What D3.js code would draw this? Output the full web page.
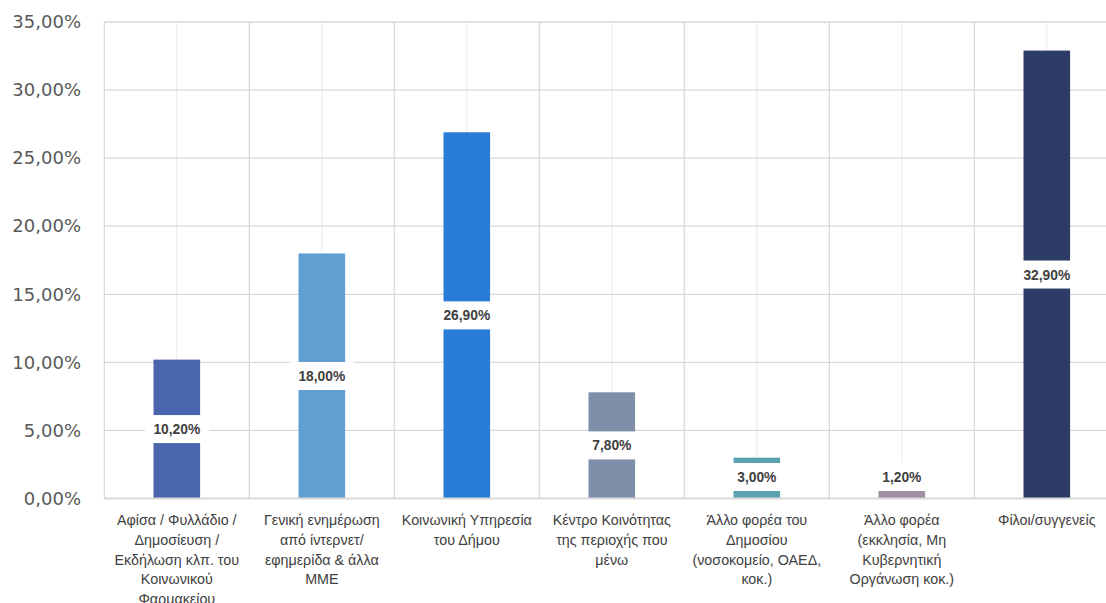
<!DOCTYPE html>
<html>
<head>
<meta charset="utf-8">
<script src="https://cdn.jsdelivr.net/npm/d3@7/dist/d3.min.js"></script>
<style>
  html, body { margin: 0; padding: 0; background: #fff; overflow: hidden; }
  svg { display: block; }
</style>
</head>
<body>
<div id="chart"></div>
<script>
const categories = [
  ["Αφίσα / Φυλλάδιο /", "Δημοσίευση /", "Εκδήλωση κλπ. του", "Κοινωνικού", "Φαρμακείου"],
  ["Γενική ενημέρωση", "από ίντερνετ/", "εφημερίδα & άλλα", "ΜΜΕ"],
  ["Κοινωνική Υπηρεσία", "του Δήμου"],
  ["Κέντρο Κοινότητας", "της περιοχής που", "μένω"],
  ["Άλλο φορέα του", "Δημοσίου", "(νοσοκομείο, ΟΑΕΔ,", "κοκ.)"],
  ["Άλλο φορέα", "(εκκλησία, Μη", "Κυβερνητική", "Οργάνωση κοκ.)"],
  ["Φίλοι/συγγενείς"]
];
const values = [10.2, 18.0, 26.9, 7.8, 3.0, 1.2, 32.9];
const barColors = ["#4a64ad", "#619fd3", "#2a7dd6", "#7f8faa", "#5aa3ae", "#a08ea2", "#2c3c66"];
const yTicks = [0, 5, 10, 15, 20, 25, 30, 35];

(function () {
const W = 1106, H = 603;
const mLeft = 104.3, catW = 145;
const mRight = mLeft + catW * categories.length;
const mTop = 22, mBottom = 498.5;

const svg = d3.select("#chart").append("svg").attr("width", W).attr("height", H);

const idx = categories.map((d, i) => i);
const x = d3.scaleBand().domain(idx).range([mLeft, mRight]).paddingInner(0).paddingOuter(0);
const y = d3.scaleLinear().domain([0, 35]).range([mBottom, mTop]);

const fmt = v => d3.format(".2f")(v).replace(".", ",") + "%";

// minor vertical gridlines at category centers
svg.append("g").selectAll("line").data(idx).join("line")
  .attr("x1", d => x(d) + x.bandwidth() / 2).attr("x2", d => x(d) + x.bandwidth() / 2)
  .attr("y1", mTop).attr("y2", mBottom)
  .attr("stroke", "#efefef").attr("stroke-width", 1.3);

// major vertical gridlines at category boundaries
svg.append("g").selectAll("line").data(idx.concat([categories.length])).join("line")
  .attr("x1", d => d < categories.length ? x(d) : mRight).attr("x2", d => d < categories.length ? x(d) : mRight)
  .attr("y1", mTop).attr("y2", mBottom)
  .attr("stroke", "#d9d9d9").attr("stroke-width", 1.3);

// horizontal gridlines
svg.append("g").selectAll("line").data(yTicks.filter(t => t > 0)).join("line")
  .attr("x1", mLeft).attr("x2", mRight)
  .attr("y1", d => y(d)).attr("y2", d => y(d))
  .attr("stroke", "#d9d9d9").attr("stroke-width", 1.3);

// y axis labels
const yAxis = d3.axisLeft(y).tickValues(yTicks).tickFormat(fmt).tickSize(0).tickPadding(0);
const ga = svg.append("g").attr("transform", `translate(81,0)`).call(yAxis);
ga.select(".domain").remove();
ga.selectAll("text")
  .attr("font-family", "DejaVu Sans, Verdana, sans-serif")
  .attr("font-size", "18px").attr("fill", "#595959");

// bars
const barW = 46.6;
svg.append("g").selectAll("rect").data(values).join("rect")
  .attr("x", (d, i) => x(i) + x.bandwidth() / 2 - barW / 2)
  .attr("width", barW)
  .attr("y", d => y(d))
  .attr("height", d => y(0) - y(d))
  .attr("fill", (d, i) => barColors[i]);

// bottom axis line
svg.append("line").attr("x1", mLeft).attr("x2", mRight)
  .attr("y1", mBottom).attr("y2", mBottom)
  .attr("stroke", "#d9d9d9").attr("stroke-width", 2);

// data labels with white boxes
const boxW = 64, boxH = 28;
const lg = svg.append("g").selectAll("g").data(values).join("g")
  .attr("transform", (d, i) => {
    const cy = Math.min(y(d / 2), y(0) - 21.5);
    return `translate(${x(i) + x.bandwidth() / 2},${cy})`;
  });
lg.append("rect").attr("x", -boxW / 2).attr("y", -boxH / 2).attr("width", boxW).attr("height", boxH).attr("fill", "#fff");
lg.append("text").attr("text-anchor", "middle").attr("dy", "0.36em")
  .attr("font-family", "Liberation Sans, Arial, sans-serif")
  .attr("font-weight", "bold").attr("font-size", "13.8px").attr("fill", "#404040")
  .text(d => fmt(d));

// category labels
const cl = svg.append("g").selectAll("text").data(categories).join("text")
  .attr("text-anchor", "middle")
  .attr("font-family", "Liberation Sans, Arial, sans-serif")
  .attr("font-size", "14.3px").attr("fill", "#404040")
  .attr("transform", (d, i) => `translate(${x(i) + x.bandwidth() / 2},525)`);
cl.selectAll("tspan").data(d => d).join("tspan")
  .attr("x", 0).attr("y", (d, j) => j * 19.8)
  .text(d => d);
})();
</script>
</body>
</html>
